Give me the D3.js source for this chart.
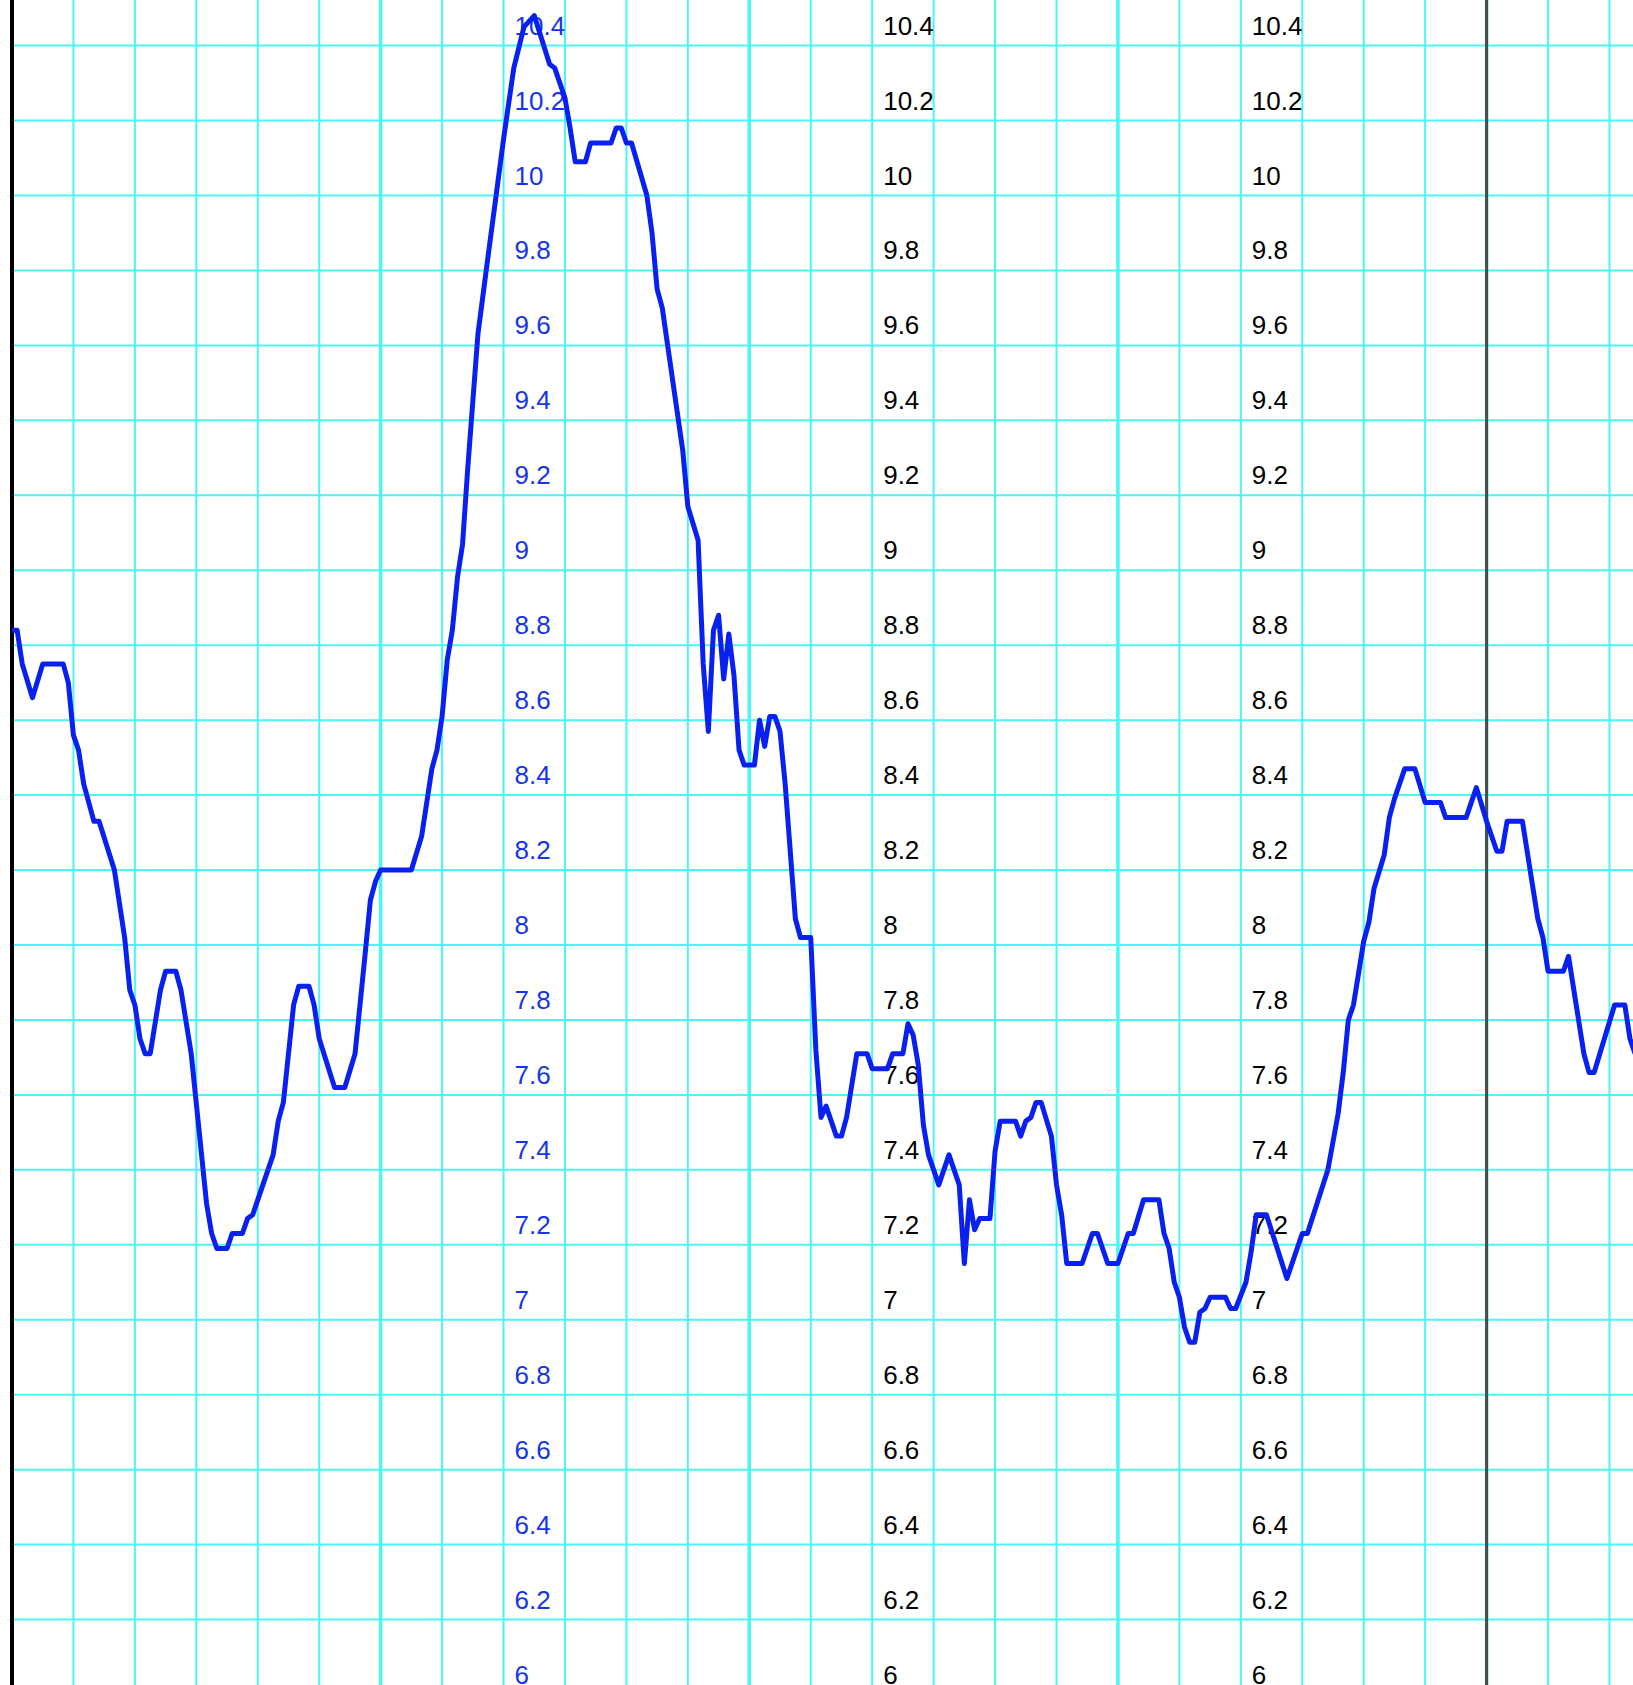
<!DOCTYPE html>
<html>
<head>
<meta charset="utf-8">
<script src="https://cdn.jsdelivr.net/npm/d3@7"></script>
<style>
body{margin:0;background:#fff;overflow:hidden;}
</style>
</head>
<body>
<script>
// minutes from the left edge, sampled every 20 min (only the corners of the trace)
let minutes=[0,20,40,80,120,200,220,240,260,280,
320,340,400,440,460,480,500,520,540,580,
600,640,660,700,760,780,800,840,860,900,
920,940,1020,1040,1060,1100,1120,1160,1180,1200,
1260,1300,1340,1380,1400,1420,1440,1560,1600,1640,
1660,1680,1700,1720,1740,1760,1780,1820,1860,1920,
1960,2000,2040,2100,2120,2160,2180,2200,2240,2260,
2340,2360,2380,2400,2420,2480,2500,2520,2540,2620,
2640,2680,2700,2720,2740,2760,2780,2800,2820,2840,
2860,2900,2920,2940,2960,2980,3000,3020,3060,3080,
3120,3140,3160,3180,3220,3240,3260,3300,3340,3360,
3420,3440,3480,3500,3520,3540,3560,3580,3620,3660,
3700,3720,3740,3760,3780,3820,3840,3860,3920,3940,
3960,3980,4000,4020,4060,4080,4100,4120,4180,4220,
4240,4280,4320,4360,4380,4420,4480,4500,4520,4540,
4560,4580,4600,4620,4640,4660,4680,4740,4760,4780,
4820,4840,4860,4900,4980,5040,5060,5140,5180,5200,
5220,5240,5280,5300,5320,5360,5380,5400,5440,5480,
5520,5580,5600,5680,5720,5760,5800,5820,5840,5900,
5960,5980,6000,6060,6080,6140,6160,6180,6260,6300,
6320,6340];

let levels=[8.84,8.84,8.75,8.66,8.75,8.75,8.70,8.56,8.52,8.43,
8.33,8.33,8.20,8.02,7.88,7.84,7.75,7.71,7.71,7.88,
7.93,7.93,7.88,7.71,7.31,7.23,7.19,7.19,7.23,7.23,
7.27,7.28,7.44,7.53,7.58,7.84,7.89,7.89,7.84,7.75,
7.62,7.62,7.71,7.98,8.12,8.17,8.20,8.20,8.29,8.47,
8.52,8.61,8.76,8.84,8.98,9.07,9.27,9.63,9.84,10.15,
10.34,10.45,10.48,10.35,10.34,10.26,10.18,10.09,10.09,10.14,
10.14,10.18,10.18,10.14,10.14,10.00,9.90,9.75,9.70,9.32,
9.17,9.08,8.75,8.57,8.84,8.88,8.71,8.83,8.72,8.52,
8.48,8.48,8.60,8.53,8.61,8.61,8.57,8.43,8.07,8.02,
8.02,7.72,7.54,7.57,7.49,7.49,7.54,7.71,7.71,7.67,
7.67,7.71,7.71,7.79,7.76,7.68,7.52,7.44,7.36,7.44,
7.36,7.15,7.32,7.24,7.27,7.27,7.45,7.53,7.53,7.49,
7.53,7.54,7.58,7.58,7.49,7.36,7.28,7.15,7.15,7.23,
7.23,7.15,7.15,7.23,7.23,7.32,7.32,7.23,7.19,7.10,
7.06,6.98,6.94,6.94,7.02,7.03,7.06,7.06,7.03,7.03,
7.10,7.18,7.28,7.28,7.11,7.23,7.23,7.40,7.55,7.66,
7.80,7.84,8.01,8.06,8.15,8.24,8.34,8.39,8.47,8.47,
8.38,8.38,8.34,8.34,8.42,8.33,8.25,8.25,8.33,8.33,
8.07,8.02,7.93,7.93,7.97,7.71,7.66,7.66,7.84,7.84,
7.75,7.71];

let yTicks=[10.4,10.2,10,9.8,9.6,9.4,9.2,9,8.8,8.6,8.4,8.2,8,7.8,7.6,7.4,7.2,7,6.8,6.6,6.4,6.2,6];
let labelDays=[1,2,3];
let nowMinute=5760;

let W=1633,H=1685;
let lineCol="#0820f0";
let gridCol="#4cf5f5";

let svg=d3.select("body").append("svg").attr("width",W).attr("height",H);

let xScale=d3.scaleLinear().domain([0,5760]).range([12,1486.6]);
let yScale=d3.scaleLinear().domain([10.4,6]).range([45.6,1694.5]);

// vertical grid every 4 hours, heavier at day change
let vLines=d3.range(0,6600,240);
svg.append("g").selectAll("line").data(vLines).enter().append("line")
  .attr("x1",d=>xScale(d)).attr("x2",d=>xScale(d))
  .attr("y1",0).attr("y2",H)
  .attr("stroke",gridCol)
  .attr("stroke-width",d=>d%1440==0?3.5:2);

svg.append("g").selectAll("line").data(yTicks).enter().append("line")
  .attr("x1",12).attr("x2",W)
  .attr("y1",d=>yScale(d)).attr("y2",d=>yScale(d))
  .attr("stroke",gridCol).attr("stroke-width",2);

let fmt=d3.format(".1~f");
labelDays.forEach(day=>{
  svg.append("g").selectAll("text").data(yTicks).enter().append("text")
    .attr("x",xScale(day*1440+480)+11)
    .attr("y",d=>yScale(d)-11)
    .attr("fill",day==1?"#1535e8":"#000")
    .style("font","26px 'Liberation Sans', Arial, sans-serif")
    .text(d=>fmt(d));
});

svg.append("line").attr("x1",12).attr("x2",12).attr("y1",0).attr("y2",H)
  .attr("stroke","#000").attr("stroke-width",4);
svg.append("line").attr("x1",xScale(nowMinute)).attr("x2",xScale(nowMinute)).attr("y1",0).attr("y2",H)
  .attr("stroke","#4a4a4a").attr("stroke-width",3);

let pts=minutes.map((m,i)=>[m,levels[i]]);
let line=d3.line().x(d=>xScale(d[0])).y(d=>yScale(d[1]));
svg.append("path").attr("d",line(pts))
  .attr("fill","none").attr("stroke",lineCol)
  .attr("stroke-width",5).attr("stroke-linejoin","round");
</script>
</body>
</html>
